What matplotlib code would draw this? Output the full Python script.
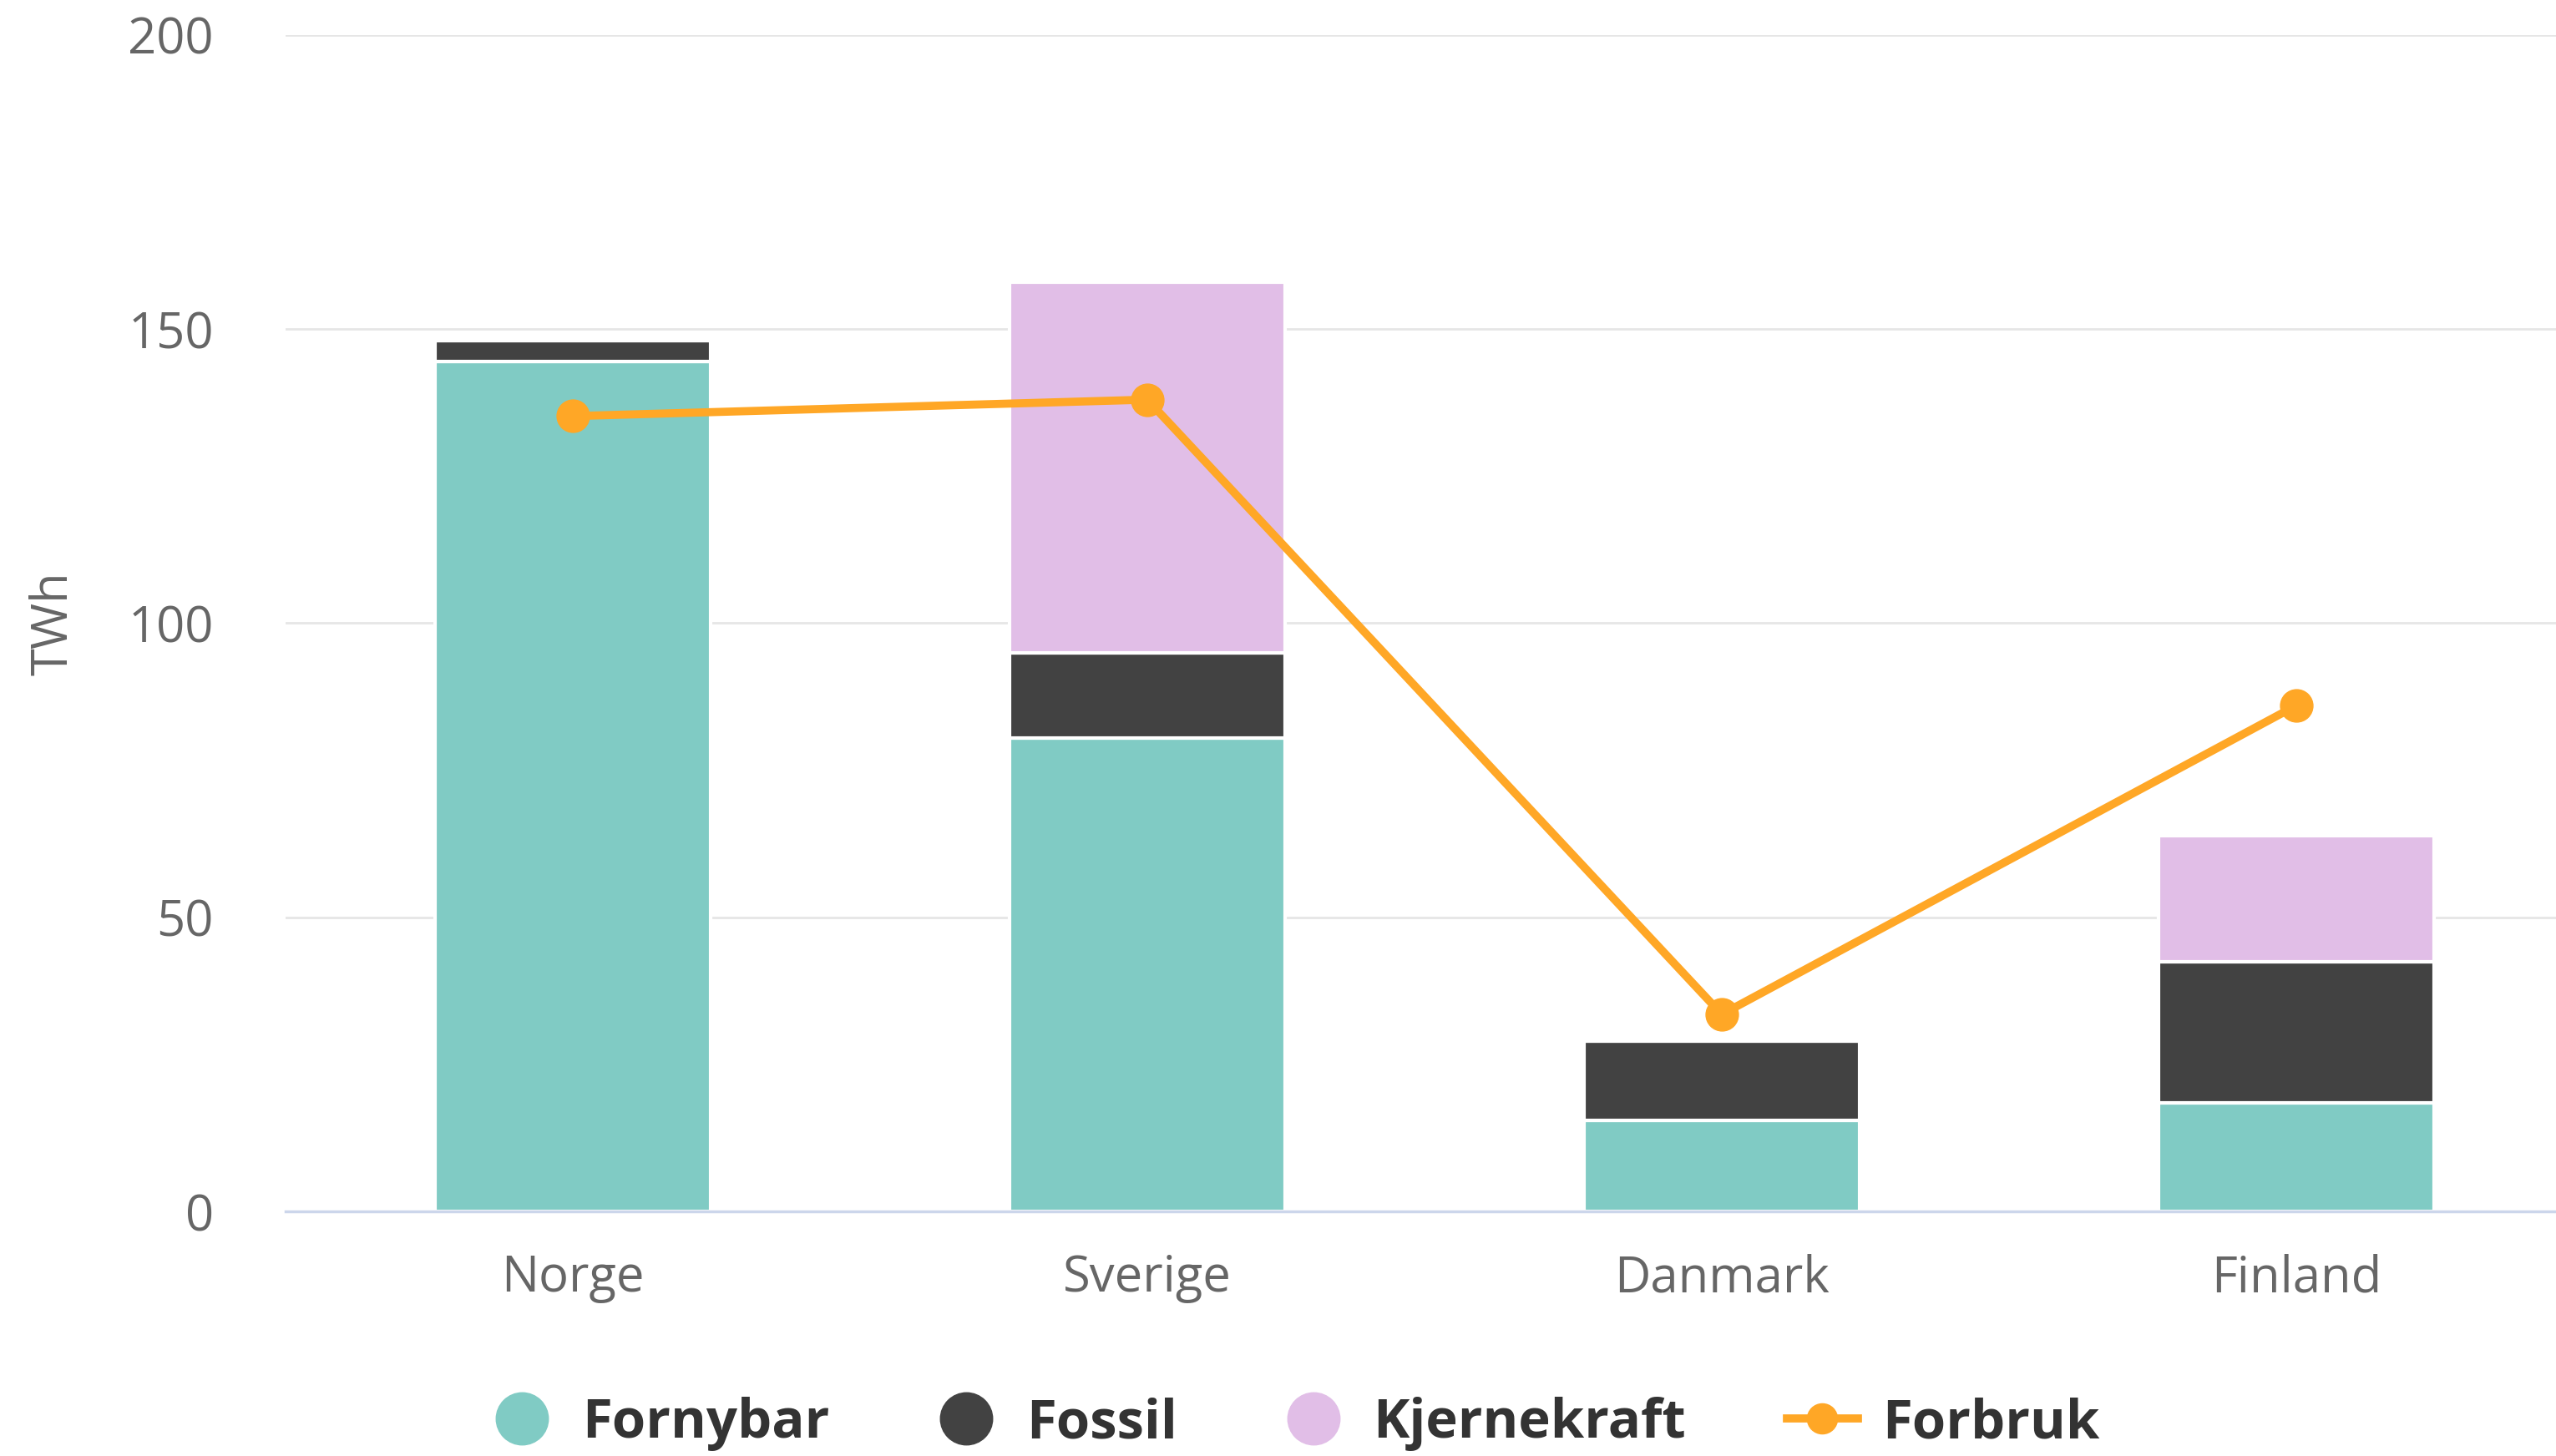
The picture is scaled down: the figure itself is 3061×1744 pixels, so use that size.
import matplotlib.pyplot as plt
from matplotlib.lines import Line2D

plt.rcParams['font.family'] = ['Open Sans', 'DejaVu Sans']

land = ['Norge', 'Sverige', 'Danmark', 'Finland']
fornybar = [144.5, 80.5, 15.5, 18.5]
fossil = [3.5, 14.5, 13.5, 24.0]
kjernekraft = [0.0, 63.0, 0.0, 21.3]
forbruk = [135.2, 138.0, 33.5, 86.0]

c_forn = '#80cbc4'
c_foss = '#424242'
c_kjer = '#e1bee7'
c_forb = '#ffa726'

fig = plt.figure(figsize=(30.61, 17.44), dpi=100)
ax = fig.add_axes([0.1117, 0.168, 0.8883, 0.808])

x = range(len(land))
w = 0.48
bunn2 = [a + b for a, b in zip(fornybar, fossil)]
ax.bar(x, fornybar, w, color=c_forn, edgecolor='white', linewidth=3, zorder=2)
ax.bar(x, fossil, w, bottom=fornybar, color=c_foss, edgecolor='white', linewidth=3, zorder=2)
ax.bar(x, kjernekraft, w, bottom=bunn2, color=c_kjer, edgecolor='white', linewidth=3, zorder=2)
ax.plot(x, forbruk, color=c_forb, linewidth=7, marker='o', markersize=28, zorder=3)

ax.set_xlim(-0.5, 3.452)
ax.set_ylim(0, 200)
ax.set_yticks([0, 50, 100, 150, 200])
ax.set_xticks(list(x))
ax.set_xticklabels(land)
ax.yaxis.grid(True, color='#e6e6e6', linewidth=2)
ax.set_axisbelow(True)
for s in ['top', 'right', 'left']:
    ax.spines[s].set_visible(False)
ax.spines['bottom'].set_color('#ccd6eb')
ax.spines['bottom'].set_linewidth(2.5)
ax.tick_params(axis='both', length=0, labelsize=43, labelcolor='#666666')
ax.tick_params(axis='y', pad=62)
ax.tick_params(axis='x', pad=36)
ax.set_ylabel('TWh', fontsize=43, color='#666666', labelpad=42)

handles = [
    Line2D([], [], linestyle='none', marker='o', markersize=45, color=c_forn),
    Line2D([], [], linestyle='none', marker='o', markersize=45, color=c_foss),
    Line2D([], [], linestyle='none', marker='o', markersize=45, color=c_kjer),
    Line2D([], [], color=c_forb, linewidth=7, marker='o', markersize=26),
]
fig.legend(handles, ['Fornybar', 'Fossil', 'Kjernekraft', 'Forbruk'],
           loc='center', bbox_to_anchor=(0.506, 0.022), ncol=4, frameon=False,
           prop={'size': 47, 'weight': 'bold'}, labelcolor='#333333',
           handlelength=1.3, handletextpad=0.45, columnspacing=1.85)

fig.savefig('out.png', dpi=100)
